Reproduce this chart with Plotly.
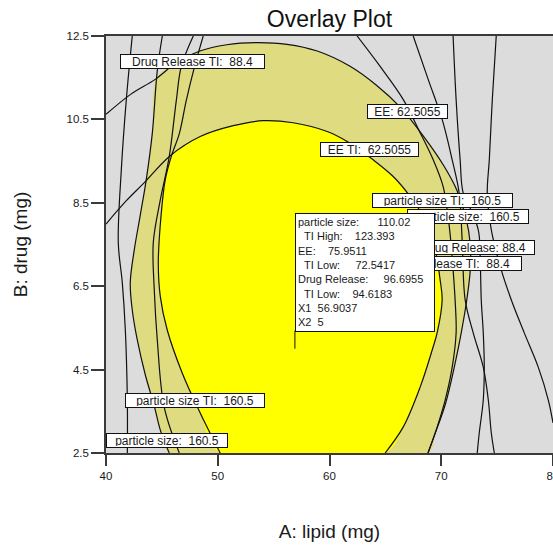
import numpy as np
import plotly.graph_objects as go

# ---------------- axis ticks ----------------
x_ticks = [40, 50, 60, 70, 80]
x_tick_labels = ["40", "50", "60", "70", "80"]
y_ticks = [2.5, 4.5, 6.5, 8.5, 10.5, 12.5]
y_tick_labels = ["2.5", "4.5", "6.5", "8.5", "10.5", "12.5"]

# ---------------- contour lines (A: lipid, B: drug) ----------------
# EE = 62.5055
ee_x = [40.0, 42.2, 44.4, 46.4, 48.4, 50.8, 53.5, 56.2, 58.9, 61.8, 64.2, 66.3, 68.4, 70.2,
        71.4, 72.2, 72.6, 72.6, 72.3, 71.8, 71.2, 70.4, 69.5, 68.8]
ee_y = [10.62, 11.10, 11.46, 11.88, 12.14, 12.29, 12.34, 12.30, 12.14, 11.78, 11.32, 10.80, 10.10, 9.40,
        8.80, 8.15, 7.50, 6.90, 6.20, 5.40, 4.60, 3.70, 3.00, 2.50]

# EE TI = 62.5055
ee_ti_x = [40.0, 41.82, 43.34, 45.75, 48.43, 51.39, 54.07, 56.75, 59.79, 61.58, 63.91, 65.70, 67.22,
           68.38, 69.45, 69.90, 70.08, 69.63, 69.19, 68.11, 66.59, 64.98]
ee_ti_y = [7.99, 8.55, 8.96, 9.63, 10.09, 10.35, 10.47, 10.42, 10.21, 9.97, 9.53, 9.13, 8.65,
           8.17, 7.37, 6.65, 6.17, 5.38, 4.97, 4.08, 3.12, 2.50]

# particle size = 160.5 (left branch)
ps_left_x = [45.04, 44.59, 44.14, 43.60, 43.07, 42.53, 42.17, 42.35, 42.80, 43.52, 44.30, 44.86, 45.66]
ps_left_y = [12.50, 11.67, 10.16, 9.05, 8.21, 7.37, 6.58, 5.93, 5.21, 4.37, 3.65, 3.05, 2.50]

# particle size TI = 160.5 (left branch)
ps_ti_left_x = [48.70, 47.90, 47.18, 46.56, 45.85, 45.30, 44.95, 44.68, 44.86, 45.48, 46.82, 48.43, 50.22]
ps_ti_left_y = [12.50, 11.74, 10.95, 10.16, 9.62, 9.05, 8.26, 7.06, 6.25, 5.45, 4.42, 3.46, 2.50]

# drug release TI = 88.4 (left branch)
dr_ti_left_x = [47.81, 46.74, 46.29, 45.66, 44.86, 44.23, 44.32, 44.59, 45.21, 46.56]
dr_ti_left_y = [12.50, 11.77, 10.95, 9.61, 8.57, 7.54, 6.41, 5.21, 3.60, 2.50]

# drug release = 88.4 (left branch)
dr_left_x = [42.35, 41.82, 41.37, 41.10, 41.46, 41.73, 41.91, 41.91]
dr_left_y = [12.50, 10.98, 9.29, 7.54, 6.58, 5.45, 3.77, 2.50]

# drug release TI = 88.4 (right branch)
dr_ti_right_x = [62.47, 64.53, 66.59, 68.11, 69.28, 70.17, 70.53, 70.80, 71.06, 71.24, 71.33, 70.98,
                 70.35, 69.63, 69.01, 68.83]
dr_ti_right_y = [12.50, 11.77, 10.98, 10.18, 9.53, 8.89, 8.33, 7.73, 6.89, 6.17, 5.38, 4.56,
                 3.77, 3.12, 2.64, 2.50]

# drug release = 88.4 (right branch)
dr_right_x = [67.49, 68.83, 70.08, 70.98, 71.60, 71.87, 72.14, 72.86, 73.76, 74.21, 74.48, 74.75]
dr_right_y = [12.50, 11.46, 10.50, 9.53, 8.74, 7.61, 6.17, 5.38, 4.56, 3.77, 2.98, 2.50]

# particle size TI = 160.5 (right branch)
ps_ti_right_x = [71.06, 71.33, 71.69, 71.96, 72.80, 73.35, 73.50, 73.58, 73.76, 73.85, 73.76, 73.40, 73.22]
ps_ti_right_y = [12.50, 10.98, 9.53, 8.74, 8.25, 7.80, 7.00, 6.17, 5.38, 4.56, 3.77, 2.98, 2.50]

# particle size = 160.5 (right branch)
ps_right_x = [74.92, 74.57, 74.30, 74.12, 74.48, 75.37, 76.27, 77.43, 78.68, 79.58, 80.0]
ps_right_y = [12.50, 10.98, 9.53, 8.74, 7.85, 6.89, 6.17, 5.38, 4.56, 3.77, 3.22]

# contour labels
label_texts = ["Drug Release TI:  88.4", "EE: 62.5055", "EE TI:  62.5055",
               "particle size TI:  160.5", "particle size:  160.5", "Drug Release: 88.4",
               "Drug Release TI:  88.4", "particle size TI:  160.5", "particle size:  160.5"]
label_x = [47.76, 67.0, 63.6, 70.12, 72.41, 72.94, 70.75, 47.99, 45.48]
label_y = [11.90, 10.69, 9.79, 8.55, 8.17, 7.43, 7.05, 3.77, 2.81]

# flagged point prediction
flag_x = 56.9037
flag_y = 5
flag_lines = [
    ("particle size:", "110.02"),
    ("  TI High:", "123.393"),
    ("EE:", "75.9511"),
    ("  TI Low:", "72.5417"),
    ("Drug Release:", "96.6955"),
    ("  TI Low:", "94.6183"),
    ("X1", "56.9037"),
    ("X2", "5"),
]

# ---------------- styles ----------------
GRAY = "#DCDCDC"
OLIVE = "#DEDB80"
YELLOW = "#FFFF00"
FONT = "Arial, Liberation Sans, sans-serif"
TXT = "#1a1a1a"
label_box_w = [141, 77, 95, 137, 118, 118, 141, 136, 118]
flag_gaps = [6, 4, 4, 5, 5, 4, 2, 2]

FIG_W, FIG_H = 553, 548


def first_crossing(ax, ay, bx, by):
    for i in range(len(ax) - 1):
        p = np.array([ax[i], ay[i]], float)
        r = np.array([ax[i + 1] - ax[i], ay[i + 1] - ay[i]], float)
        for j in range(len(bx) - 1):
            q = np.array([bx[j], by[j]], float)
            s = np.array([bx[j + 1] - bx[j], by[j + 1] - by[j]], float)
            den = r[0] * s[1] - r[1] * s[0]
            if abs(den) < 1e-12:
                continue
            t = ((q[0] - p[0]) * s[1] - (q[1] - p[1]) * s[0]) / den
            u = ((q[0] - p[0]) * r[1] - (q[1] - p[1]) * r[0]) / den
            if 0 <= t <= 1 and 0 <= u <= 1:
                return i, j, p + t * r
    return None


def region(cx, cy, sx, sy):
    i, j, pt = first_crossing(cx, cy, sx, sy)
    px = [pt[0]] + list(cx[i + 1:]) + list(sx[j + 1:])[::-1] + [pt[0]]
    py = [pt[1]] + list(cy[i + 1:]) + list(sy[j + 1:])[::-1] + [pt[1]]
    return px, py


fig = go.Figure()

ox, oy = region(ee_x, ee_y, ps_left_x, ps_left_y)
fig.add_trace(go.Scatter(x=ox, y=oy, mode="lines", fill="toself", fillcolor=OLIVE,
                         line=dict(width=0, shape="spline", color=OLIVE),
                         hoverinfo="skip", showlegend=False))
yx, yy = region(ee_ti_x, ee_ti_y, ps_ti_left_x, ps_ti_left_y)
fig.add_trace(go.Scatter(x=yx, y=yy, mode="lines", fill="toself", fillcolor=YELLOW,
                         line=dict(width=0, shape="spline", color=YELLOW),
                         hoverinfo="skip", showlegend=False))

curves = [
    ("EE", ee_x, ee_y),
    ("EE TI", ee_ti_x, ee_ti_y),
    ("particle size (left)", ps_left_x, ps_left_y),
    ("particle size TI (left)", ps_ti_left_x, ps_ti_left_y),
    ("Drug Release TI (left)", dr_ti_left_x, dr_ti_left_y),
    ("Drug Release (left)", dr_left_x, dr_left_y),
    ("Drug Release TI (right)", dr_ti_right_x, dr_ti_right_y),
    ("Drug Release (right)", dr_right_x, dr_right_y),
    ("particle size TI (right)", ps_ti_right_x, ps_ti_right_y),
    ("particle size (right)", ps_right_x, ps_right_y),
]
for name, cx, cy in curves:
    fig.add_trace(go.Scatter(x=cx, y=cy, mode="lines", name=name,
                             line=dict(color="#111111", width=1.2, shape="spline"),
                             hoverinfo="skip", showlegend=False))

annotations = []
for t, lx, ly, w in zip(label_texts, label_x, label_y, label_box_w):
    annotations.append(dict(x=lx, y=ly, xref="x", yref="y", text=t.replace(" ", "\u00a0"),
                            showarrow=False, font=dict(family=FONT, size=12, color=TXT),
                            bgcolor="white", bordercolor="#111111", borderwidth=1, borderpad=1,
                            width=w, height=11, xanchor="center", yanchor="middle"))

flag_text = "<br>".join(
    (a + "\u00a0" * g + b).replace(" ", "\u00a0") for (a, b), g in zip(flag_lines, flag_gaps)
)
annotations.append(dict(x=flag_x, y=flag_y, xref="x", yref="y", text=flag_text, showarrow=False,
                        xanchor="left", yanchor="bottom", yshift=17, align="left", valign="top",
                        width=134, height=113, bgcolor="white", bordercolor="#111111",
                        borderwidth=1, borderpad=2,
                        font=dict(family=FONT, size=11, color=TXT)))

fig.add_shape(type="line", xref="x", yref="y", x0=flag_x, x1=flag_x, ysizemode="pixel",
              yanchor=flag_y, y0=0, y1=18, line=dict(color="#111111", width=1))

axis_common = dict(showgrid=False, zeroline=False, showline=True, mirror=True, automargin=False,
                   linecolor="#3a3a3a", linewidth=1.5, ticks="outside", tickwidth=1.5,
                   tickcolor="#3a3a3a", ticklabeloverflow="allow",
                   tickfont=dict(family=FONT, size=11.5, color=TXT))

fig.update_layout(
    width=FIG_W, height=FIG_H,
    margin=dict(l=106, r=0, t=36, b=95),
    paper_bgcolor="white", plot_bgcolor=GRAY,
    showlegend=False, hovermode=False,
    title=dict(text="Overlay Plot", x=0.5, xref="paper", xanchor="center",
               y=1 - 19 / FIG_H, yref="container", yanchor="middle", automargin=False,
               font=dict(family=FONT, size=23, color="#111111")),
    xaxis=dict(range=[40, 80], tickvals=x_ticks, ticktext=x_tick_labels, ticklen=11,
               title=dict(text="A: lipid (mg)", standoff=44,
                          font=dict(family=FONT, size=19, color=TXT)),
               **axis_common),
    yaxis=dict(range=[2.5, 12.5], tickvals=y_ticks, ticktext=y_tick_labels, ticklen=13,
               title=dict(text="B: drug (mg)", standoff=34,
                          font=dict(family=FONT, size=19, color=TXT)),
               **axis_common),
    annotations=annotations,
)

fig.write_html("out.html", config={"displayModeBar": False},
               post_script="document.body.style.margin='0px';document.body.style.overflow='hidden';")
